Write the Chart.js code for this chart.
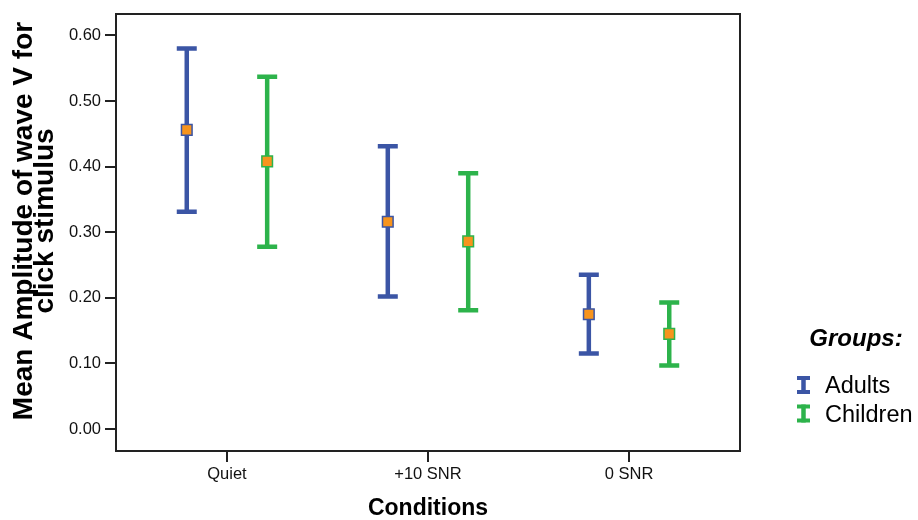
<!DOCTYPE html>
<html>
<head>
<meta charset="utf-8">
<script src="https://cdn.jsdelivr.net/npm/chart.js@4/dist/chart.umd.min.js"></script>
<style>
  body { margin: 0; background: #fff; }
  #wrap { width: 918px; height: 520px; }
</style>
</head>
<body>
<div id="wrap"><canvas id="chart" width="918" height="520"></canvas></div>
<script>
'use strict';

// values
var conditions = ['Quiet', '+10 SNR', '0 SNR'];
var groups = ['Adults', 'Children'];
var adultsMean = [0.456, 0.316, 0.175];
var adultsLow = [0.331, 0.202, 0.115];
var adultsHigh = [0.580, 0.431, 0.235];
var childrenMean = [0.408, 0.286, 0.145];
var childrenLow = [0.278, 0.181, 0.097];
var childrenHigh = [0.537, 0.390, 0.193];
var yTitle = ['Mean Amplitude of wave V for', 'click stimulus'];
var xTitle = 'Conditions';
var legendTitle = 'Groups:';

var FONT = '"Liberation Sans", Arial, Helvetica, sans-serif';
var BLUE = '#3b55a5';
var GREEN = '#2db34b';
var ORANGE = '#f7941d';
var INK = '#222';

function makeSet(label, color, means, lows, highs, shift) {
    return {
        label: label,
        data: means.map(function(m, i) { return {x: i + shift, y: m}; }),
        lows: lows,
        highs: highs,
        barColor: color,
        pointStyle: 'rect',
        pointRadius: 7.5,
        pointHoverRadius: 7.5,
        backgroundColor: ORANGE,
        borderColor: color,
        borderWidth: 1.5,
        showLine: false
    };
}

/**
 * Draws the box, the error bars, the rotated y title and the legend.
 */
var errorBars = {
    id: 'errorBars',
    beforeDatasetsDraw: function(chart) {
        var ctx = chart.ctx,
            area = chart.chartArea,
            y = chart.scales.y;

        ctx.save();
        ctx.strokeStyle = INK;
        ctx.lineWidth = 2;
        ctx.strokeRect(area.left, area.top, area.right - area.left, area.bottom - area.top);

        chart.data.datasets.forEach(function(ds, di) {
            var meta = chart.getDatasetMeta(di);
            ctx.strokeStyle = ds.barColor;
            ctx.lineCap = 'butt';
            meta.data.forEach(function(pt, i) {
                var top = y.getPixelForValue(ds.highs[i]),
                    bot = y.getPixelForValue(ds.lows[i]);
                ctx.lineWidth = 4.5;
                ctx.beginPath();
                ctx.moveTo(pt.x, top);
                ctx.lineTo(pt.x, bot);
                ctx.stroke();
                ctx.lineWidth = 4.5;
                ctx.beginPath();
                ctx.moveTo(pt.x - 10, top);
                ctx.lineTo(pt.x + 10, top);
                ctx.moveTo(pt.x - 10, bot);
                ctx.lineTo(pt.x + 10, bot);
                ctx.stroke();
            });
        });
        ctx.restore();
    },
    afterDraw: function(chart) {
        var ctx = chart.ctx;
        ctx.save();

        // y title, two tight lines
        ctx.fillStyle = '#000';
        ctx.font = 'bold 28px ' + FONT;
        ctx.textAlign = 'center';
        ctx.textBaseline = 'alphabetic';
        ctx.translate(32, 221);
        ctx.rotate(-Math.PI / 2);
        yTitle.forEach(function(line, i) {
            ctx.fillText(line, 0, i * 21);
        });
        ctx.setTransform(1, 0, 0, 1, 0, 0);

        // legend
        ctx.font = 'italic bold 24px ' + FONT;
        ctx.textAlign = 'center';
        ctx.fillText(legendTitle, 856, 346);
        ctx.font = '23.5px ' + FONT;
        ctx.textAlign = 'left';
        chart.data.datasets.forEach(function(ds, i) {
            var base = 393 + i * 28.5,
                cx = 803.5;
            ctx.strokeStyle = ds.barColor;
            ctx.lineWidth = 4.5;
            ctx.beginPath();
            ctx.moveTo(cx, base - 17);
            ctx.lineTo(cx, base + 1);
            ctx.stroke();
            ctx.lineWidth = 4;
            ctx.beginPath();
            ctx.moveTo(cx - 6.5, base - 15);
            ctx.lineTo(cx + 6.5, base - 15);
            ctx.moveTo(cx - 6.5, base - 1);
            ctx.lineTo(cx + 6.5, base - 1);
            ctx.stroke();
            ctx.fillStyle = '#000';
            ctx.fillText(ds.label, 825, base);
        });
        ctx.restore();
    }
};

new Chart(document.getElementById('chart'), {
    type: 'scatter',
    data: {
        datasets: [
            makeSet(groups[0], BLUE, adultsMean, adultsLow, adultsHigh, -0.2),
            makeSet(groups[1], GREEN, childrenMean, childrenLow, childrenHigh, 0.2)
        ]
    },
    options: {
        responsive: false,
        animation: false,
        events: [],
        layout: {padding: {top: 14, right: 178, left: 0, bottom: 0}},
        plugins: {
            legend: {display: false},
            tooltip: {enabled: false}
        },
        scales: {
            x: {
                type: 'linear',
                min: -0.552,
                max: 2.552,
                afterBuildTicks: function(s) {
                    s.ticks = conditions.map(function(c, i) { return {value: i}; });
                },
                afterFit: function(s) { s.height = 69; },
                grid: {drawOnChartArea: false, drawTicks: true, tickLength: 11, color: INK, lineWidth: 2},
                border: {display: false},
                ticks: {
                    padding: 3,
                    color: '#111',
                    font: {family: FONT, size: 16.5},
                    maxRotation: 0,
                    callback: function(v) { return conditions[v]; }
                },
                title: {
                    display: true,
                    text: xTitle,
                    color: '#000',
                    font: {family: FONT, size: 23, weight: 'bold', lineHeight: 1},
                    padding: {top: 0, bottom: 0}
                }
            },
            y: {
                min: -0.0335,
                max: 0.6326,
                afterFit: function(s) { s.width = 116; },
                grid: {drawOnChartArea: false, drawTicks: true, tickLength: 11, color: INK, lineWidth: 2},
                border: {display: false},
                ticks: {
                    stepSize: 0.1,
                    includeBounds: false,
                    padding: 4,
                    color: '#111',
                    font: {family: FONT, size: 16.5},
                    callback: function(v) { return v.toFixed(2); }
                }
            }
        }
    },
    plugins: [errorBars]
});
</script>
</body>
</html>
